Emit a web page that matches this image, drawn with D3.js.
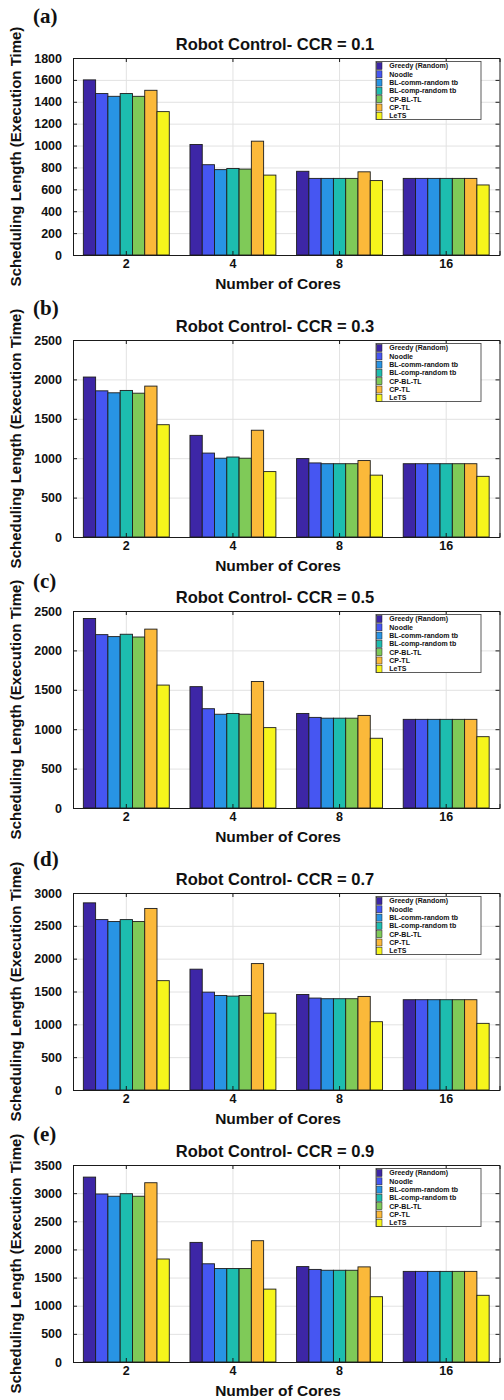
<!DOCTYPE html>
<html>
<head>
<meta charset="utf-8">
<script src="https://cdn.jsdelivr.net/npm/d3@7"></script>
<style>
  body { margin: 0; background: #fff; }
  svg text { font-family: "Liberation Sans", Arial, Helvetica, sans-serif; font-weight: bold; fill: #111; }
</style>
</head>
<body>
<div id="chart"></div>
<script>
// categories / series
const cores = ["2", "4", "8", "16"];
const methods = ["Greedy (Random)", "Noodle", "BL-comm-random tb", "BL-comp-random tb", "CP-BL-TL", "CP-TL", "LeTS"];
const panelLabels = ["(a)", "(b)", "(c)", "(d)", "(e)"];
const ccrValues = ["0.1", "0.3", "0.5", "0.7", "0.9"];
const yMaxes = [1800, 2500, 2500, 3000, 3500];
const yTickSteps = [200, 500, 500, 500, 500];

// scheduling length, one row per core count, one value per method
const ccr01 = [
  [1600, 1475, 1450, 1475, 1450, 1505, 1310],
  [1010, 825, 780, 790, 785, 1040, 730],
  [765, 700, 700, 700, 700, 760, 680],
  [700, 700, 700, 700, 700, 700, 640]
];
const ccr03 = [
  [2030, 1855, 1830, 1860, 1825, 1915, 1425],
  [1290, 1065, 1000, 1015, 1000, 1355, 830],
  [995, 940, 930, 930, 930, 970, 785],
  [930, 930, 930, 930, 930, 930, 770]
];
const ccr05 = [
  [2405, 2200, 2175, 2205, 2170, 2270, 1560],
  [1540, 1260, 1190, 1200, 1190, 1605, 1020],
  [1200, 1150, 1140, 1140, 1140, 1175, 885],
  [1125, 1125, 1125, 1125, 1125, 1125, 905]
];
const ccr07 = [
  [2850, 2595, 2565, 2595, 2565, 2765, 1665],
  [1840, 1490, 1440, 1430, 1440, 1925, 1170],
  [1455, 1400, 1390, 1390, 1390, 1425, 1040],
  [1375, 1375, 1375, 1375, 1375, 1375, 1015]
];
const ccr09 = [
  [3285, 2985, 2945, 2990, 2945, 3185, 1830],
  [2125, 1745, 1660, 1660, 1660, 2155, 1295],
  [1695, 1645, 1630, 1630, 1630, 1690, 1160],
  [1610, 1610, 1610, 1610, 1610, 1610, 1185]
];
const panelData = [ccr01, ccr03, ccr05, ccr07, ccr09];

// styling
const colors = ["#3d26a6", "#4656f2", "#2894e4", "#1dbdaf", "#7fca58", "#fbb93a", "#f6f51c"];
const width = 504, height = 1400;
const panelTops = [58, 340, 611, 893, 1165];
const plotH = 197;
const plotL = 73, plotR = 499.5;

const svg = d3.select("#chart").append("svg")
  .attr("width", width)
  .attr("height", height)
  .attr("viewBox", [0, 0, width, height]);

svg.append("rect").attr("width", width).attr("height", height).attr("fill", "#fff");

function drawPanel(p) {
  const top = panelTops[p];
  const bottom = top + plotH;
  const data = panelData[p];

  const x = d3.scaleBand().domain(cores).range([plotL, plotR]);
  const bw = x.bandwidth();
  const groupW = bw * 0.806;
  const xi = d3.scaleBand().domain(methods).range([(bw - groupW) / 2, (bw + groupW) / 2]);
  const y = d3.scaleLinear().domain([0, yMaxes[p]]).range([bottom, top]);
  const yTicks = d3.range(0, yMaxes[p] + 1, yTickSteps[p]);

  const g = svg.append("g");

  // grid
  g.append("g")
    .attr("transform", `translate(${plotL},0)`)
    .call(d3.axisLeft(y).tickValues(yTicks).tickSize(-(plotR - plotL)).tickFormat(""))
    .call(s => s.select(".domain").remove())
    .call(s => s.selectAll("line").attr("stroke", "#e2e2e2"));
  g.append("g")
    .attr("transform", `translate(0,${bottom})`)
    .call(d3.axisBottom(x).tickSize(-plotH).tickFormat(""))
    .call(s => s.select(".domain").remove())
    .call(s => s.selectAll("line").attr("stroke", "#e2e2e2"));

  // bars
  const groups = g.append("g")
    .selectAll("g")
    .data(data)
    .join("g")
    .attr("transform", (d, i) => `translate(${x(cores[i])},0)`);
  groups.selectAll("rect")
    .data(d => d.map((v, j) => ({ v: v, m: methods[j], c: colors[j] })))
    .join("rect")
    .attr("x", d => xi(d.m))
    .attr("width", xi.bandwidth())
    .attr("y", d => y(d.v))
    .attr("height", d => bottom - y(d.v))
    .attr("fill", d => d.c)
    .attr("stroke", "#1c1c1c")
    .attr("stroke-width", 0.9);

  // axes
  const left = g.append("g")
    .attr("transform", `translate(${plotL},0)`)
    .call(d3.axisLeft(y).tickValues(yTicks).tickSize(-4).tickPadding(11).tickFormat(d3.format("d")));
  left.selectAll("text").attr("font-size", 12.5);
  const bottomAx = g.append("g")
    .attr("transform", `translate(0,${bottom})`)
    .call(d3.axisBottom(x).tickSize(-4).tickPadding(4.5));
  bottomAx.selectAll("text").attr("font-size", 12.5);
  g.append("g")
    .attr("transform", `translate(${plotR},0)`)
    .call(d3.axisRight(y).tickValues(yTicks).tickSize(-4).tickFormat(""));
  g.append("g")
    .attr("transform", `translate(0,${top})`)
    .call(d3.axisTop(x).tickSize(-4).tickFormat(""));
  g.selectAll(".domain, .tick line").filter(function () {
    return this.getAttribute("stroke") === "currentColor";
  }).attr("stroke", "#1a1a1a");
  g.selectAll(".tick text").attr("fill", "#111");

  // titles
  g.append("text")
    .attr("x", 275)
    .attr("y", top - 8)
    .attr("text-anchor", "middle")
    .attr("font-size", 16.5)
    .text(`Robot Control- CCR = ${ccrValues[p]}`);
  g.append("text")
    .attr("x", 278)
    .attr("y", bottom + 34)
    .attr("text-anchor", "middle")
    .attr("font-size", 15.5)
    .text("Number of Cores");
  g.append("text")
    .attr("transform", `translate(20.5,${(top + bottom) / 2}) rotate(-90)`)
    .attr("text-anchor", "middle")
    .attr("font-size", 15)
    .text("Scheduling Length (Execution Time)");
  g.append("text")
    .attr("x", 33)
    .attr("y", top - 35.5 + [0, 10, 12, 8, 11][p])
    .attr("font-size", 21)
    .style("font-family", "'Liberation Serif', 'Times New Roman', serif")
    .text(panelLabels[p]);

  // legend
  const lg = g.append("g").attr("transform", `translate(376,${top + 3.5})`);
  lg.append("rect")
    .attr("width", 105)
    .attr("height", 58)
    .attr("fill", "#fff")
    .attr("stroke", "#4a4a4a")
    .attr("stroke-width", 0.9);
  const rows = lg.selectAll("g.row")
    .data(methods)
    .join("g")
    .attr("class", "row")
    .attr("transform", (d, i) => `translate(0,${4.5 + i * 8.3})`);
  rows.append("rect")
    .attr("x", 0.7)
    .attr("y", -3.5)
    .attr("width", 5.3)
    .attr("height", 7)
    .attr("fill", (d, i) => colors[i])
    .attr("stroke", "#1c1c1c")
    .attr("stroke-width", 0.5);
  rows.append("text")
    .attr("x", 13.3)
    .attr("dy", "0.35em")
    .attr("font-size", 7)
    .text(d => d);
}

panelData.forEach((d, p) => drawPanel(p));
</script>
</body>
</html>
